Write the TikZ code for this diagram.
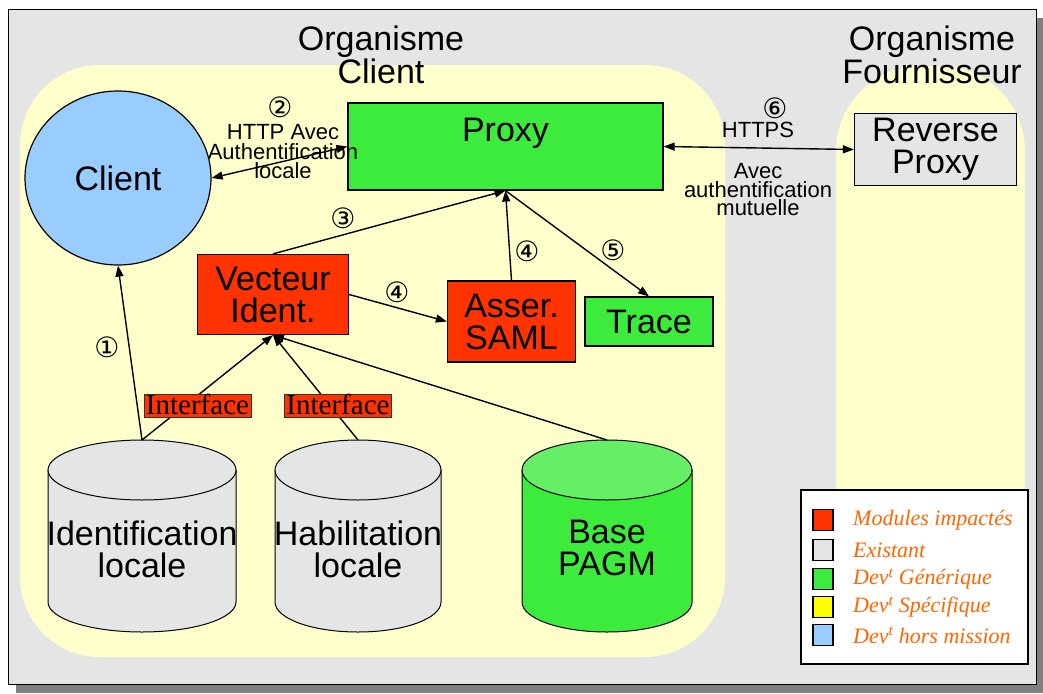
\documentclass[tikz,border=0pt]{standalone}
\usepackage{fontspec}
\setmainfont{Liberation Sans}
\newfontfamily\legendfont{Liberation Serif}
\newfontfamily\markfont{DejaVu Sans}
\usetikzlibrary{arrows.meta,shapes.geometric}

\definecolor{framegray}{HTML}{E5E5E5}
\definecolor{shadowgray}{HTML}{808080}
\definecolor{zoneyellow}{HTML}{FFFFCC}
\definecolor{clientblue}{HTML}{99CCFF}
\definecolor{devgreen}{HTML}{3DEB3D}
\definecolor{devgreenlight}{HTML}{66EE66}
\definecolor{impactred}{HTML}{FF3300}
\definecolor{legendorange}{HTML}{FF6600}
\definecolor{specyellow}{HTML}{FFFF00}

\newcommand{\boxfont}{\fontsize{34}{32}\selectfont}
\newcommand{\notefont}{\fontsize{22}{19.5}\selectfont}
\newcommand{\stepfont}{\markfont\fontsize{28}{28}\selectfont}

% database drawn as a cylinder: name, centre x, half width, top y, bottom y, body fill, lid fill
\newcommand{\dbcylinder}[7]{%
  \filldraw[cylline, fill=#6] (#2-#3,#4+30) -- (#2-#3,#5-30)
     arc[start angle=180, end angle=360, x radius=#3pt, y radius=30pt] -- (#2+#3,#4+30) -- cycle;
  \filldraw[cylline, fill=#7] (#2,#4+30) ellipse[x radius=#3pt, y radius=30pt];
  \coordinate (#1) at (#2,#4);
}

\tikzset{
  cylline/.style={line width=1pt},
  flow/.style={line width=1.4pt, -{Triangle[length=11pt,width=8pt]}},
  twoway/.style={line width=1.4pt, {Triangle[length=11pt,width=8pt]}-{Triangle[length=11pt,width=8pt]}},
  module/.style={draw, line width=1.2pt, inner sep=0pt, align=center, font=\boxfont},
  zonetitle/.style={align=center, font=\fontsize{34}{30}\selectfont},
  note/.style={align=center, font=\notefont, inner sep=0pt},
  stepmark/.style={font=\stepfont, inner sep=0pt},
  iface/.style={draw=black!80, line width=0.8pt, fill=impactred, font=\legendfont\fontsize{29}{29}\selectfont,
                inner xsep=2pt, inner ysep=0pt, text height=20pt, text depth=3pt},
  swatch/.style={draw, line width=1.2pt, minimum width=20pt, minimum height=21pt, inner sep=0pt},
  legendtext/.style={anchor=west, text=legendorange, font=\legendfont\itshape\fontsize{22}{22}\selectfont, inner sep=0pt}
}

\begin{document}
\begin{tikzpicture}[x=1pt,y=-1pt]
\useasboundingbox (0,0) rectangle (1043,693);

% frame with drop shadow
\fill[shadowgray] (16,18) rectangle (1043,693);
\filldraw[fill=framegray, line width=1pt] (8,10) rectangle (1036,684);

% the two organisations
\fill[zoneyellow, rounded corners=80pt] (20,65) rectangle (725,657);
\fill[zoneyellow, rounded corners=85pt] (836,66) rectangle (1025,657);
\node[zonetitle] (orgclient) at (381,55) {Organisme\\Client};
\node[zonetitle] (orgfourn) at (932,55) {Organisme\\Fournisseur};

% databases
\dbcylinder{idtop}{142}{94}{440}{632}{framegray}{framegray}
\dbcylinder{habtop}{358}{83}{440}{632}{framegray}{framegray}
\dbcylinder{basetop}{607}{85}{440}{632}{devgreen}{devgreenlight}
\node[align=center, font=\boxfont, inner sep=0pt] (idtext) at (142,549) {Identification\\locale};
\node[align=center, font=\boxfont, inner sep=0pt] (habtext) at (358,549) {Habilitation\\locale};
\node[align=center, font=\boxfont, inner sep=0pt] (basetext) at (607,548) {Base\\PAGM};

% modules
\node[ellipse, draw, line width=1.2pt, fill=clientblue, minimum width=186pt, minimum height=174pt,
      inner sep=0pt, font=\boxfont] (client) at (118,178) {Client};
\node[module, fill=devgreen, minimum width=315pt, minimum height=87pt] (proxy) at (505.5,146.5) {};
\node[font=\boxfont, inner sep=0pt] (proxytext) at (505.5,133) {Proxy};
\node[module, fill=framegray, minimum width=162pt, minimum height=72pt] (rproxy) at (935.5,149.5) {Reverse\\Proxy};
\node[module, fill=impactred, minimum width=151pt, minimum height=80pt] (vect) at (273,294.5) {Vecteur\\Ident.};
\node[module, fill=impactred, minimum width=128pt, minimum height=81pt] (asser) at (511.5,321.5) {Asser.\\SAML};
\node[module, fill=devgreen, minimum width=128pt, minimum height=49pt] (trace) at (649,321.5) {Trace};

% exchanges
\draw[flow] (idtop) -- (client.south);
\draw[twoway] (client.east) -- (proxy.west);
\draw[twoway] (proxy.east) -- (rproxy.west);
\draw[flow] (vect.north) -- (proxy.south);
\draw[flow] (vect.east) -- (asser.west);
\draw[flow] (asser.north) -- (proxy.south);
\draw[flow] (proxy.south) -- (trace.north);
\draw[flow] (idtop) -- (vect.south);
\draw[flow] (habtop) -- (vect.south);
\draw[flow] (basetop) -- (vect.south);

\node[iface] (iface1) at (197.5,405.5) {Interface};
\node[iface] (iface2) at (338,405.5) {Interface};

% step numbers and protocol notes
\node[stepmark] (s1) at (107,347) {①};
\node[stepmark] (s2) at (280,107) {②};
\node[stepmark] (s3) at (343,218) {③};
\node[stepmark] (s4a) at (397,292) {④};
\node[stepmark] (s4b) at (527,251) {④};
\node[stepmark] (s5) at (613,250) {⑤};
\node[stepmark] (s6) at (775,108) {⑥};
\node[note] (httpnote) at (283,152) {HTTP Avec\\Authentification\\locale};
\node[note] (httpsnote) at (758,130) {HTTPS};
\node[note, font=\fontsize{22}{18.5}\selectfont] (mutualnote) at (758,190) {Avec\\authentification\\mutuelle};

% legend
\filldraw[fill=white, line width=1.2pt] (801,490) rectangle (1028,664);
\node[swatch, fill=impactred] (lg1) at (823,520) {};
\node[swatch, fill=framegray] (lg2) at (823,550) {};
\node[swatch, fill=devgreen] (lg3) at (823,579) {};
\node[swatch, fill=specyellow] (lg4) at (823,607) {};
\node[swatch, fill=clientblue] (lg5) at (823,635) {};
\node[legendtext] (lt1) at (853,520) {Modules impactés};
\node[legendtext] (lt2) at (853,550) {Existant};
\node[legendtext] (lt3) at (853,579) {Dev\textsuperscript{t} Générique};
\node[legendtext] (lt4) at (853,607) {Dev\textsuperscript{t} Spécifique};
\node[legendtext] (lt5) at (853,635) {Dev\textsuperscript{t} hors mission};
\end{tikzpicture}
\end{document}
